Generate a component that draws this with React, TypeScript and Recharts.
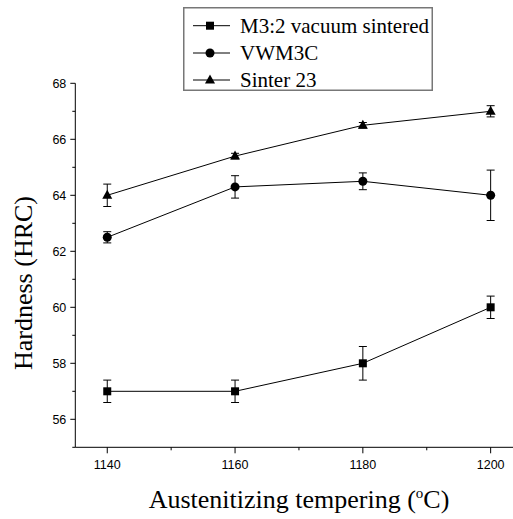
import { LineChart, Line, XAxis, YAxis, ErrorBar, Legend, Label } from "recharts"

const temps = [1140, 1160, 1180, 1200]
const m32 = [57, 57, 58, 60]
const m32Err = [0.4, 0.4, 0.6, 0.4]
const vwm3c = [62.5, 64.3, 64.5, 64.0]
const vwm3cErr = [0.2, 0.4, 0.3, 0.9]
const sinter23 = [64.0, 65.4, 66.5, 67.0]
const sinter23Err = [0.4, 0.1, 0.1, 0.2]
const seriesNames = ["M3:2 vacuum sintered", "VWM3C", "Sinter 23"]
const xTicks = [1140, 1150, 1160, 1170, 1180, 1190, 1200]
const yTicks = [55, 56, 57, 58, 59, 60, 61, 62, 63, 64, 65, 66, 67, 68]

const data = temps.map((t, i) => ({
  t,
  m32: m32[i], m32Err: m32Err[i],
  vw: vwm3c[i], vwErr: vwm3cErr[i],
  s23: sinter23[i], s23Err: sinter23Err[i],
}))

const SANS = "'Liberation Sans', Arial, sans-serif"
const SERIF = "'Liberation Serif', 'Times New Roman', serif"

type Mk = { cx: number; cy: number }
const Square = ({ cx, cy }: Mk) => <rect x={cx - 4} y={cy - 4} width={8} height={8} fill="#000" />
const Circle = ({ cx, cy }: Mk) => <circle cx={cx} cy={cy} r={4.5} fill="#000" />
const Triangle = ({ cx, cy }: Mk) => (
  <path d={`M${cx},${cy - 5.5} L${cx + 5},${cy + 3.5} L${cx - 5},${cy + 3.5} Z`} fill="#000" />
)
const markers = [Square, Circle, Triangle]

const dotOf = (M: (p: Mk) => any) => (p: any) => <M key={p.index} cx={p.cx} cy={p.cy} />

// major/minor ticks drawn by hand: recharts has no minor ticks
function YTick(props: any) {
  const { x, y, payload } = props
  const axisX = x + 8
  const major = payload.value % 2 === 0
  return (
    <g>
      <line x1={axisX - (major ? 5 : 3)} x2={axisX} y1={y} y2={y} stroke="#000" />
      {major && (
        <text x={axisX - 9} y={y + 4.5} textAnchor="end" fontFamily={SANS} fontSize={12.5} fill="#000">
          {payload.value}
        </text>
      )}
    </g>
  )
}

function XTick(props: any) {
  const { x, y, payload } = props
  const axisY = y - 8
  const major = payload.value % 20 === 0
  return (
    <g>
      <line x1={x} x2={x} y1={axisY} y2={axisY + (major ? 6 : 3)} stroke="#000" />
      {major && (
        <text x={x} y={axisY + 22} textAnchor="middle" fontFamily={SANS} fontSize={12.5} fill="#000">
          {payload.value}
        </text>
      )}
    </g>
  )
}

function LegendBox() {
  const rows = [18.7, 46, 73]
  return (
    <svg width={250} height={84} style={{ display: "block" }}>
      <rect x={0.75} y={0.75} width={248.5} height={82.5} fill="#fff" stroke="#777" strokeWidth={1.5} />
      {rows.map((ry, i) => {
        const M = markers[i]
        return (
          <g key={i}>
            <line x1={10} x2={47} y1={ry} y2={ry} stroke="#000" />
            <M cx={27} cy={ry} />
            <text x={57} y={ry + 7} fontFamily={SERIF} fontSize={21} fill="#000">{seriesNames[i]}</text>
          </g>
        )
      })}
    </svg>
  )
}

export default function App() {
  return (
    <div style={{ position: "absolute", left: 0, top: 0, width: 513, height: 519, overflow: "hidden", background: "#fff" }}>
      <LineChart width={530} height={519} data={data} margin={{ top: 83.3, right: 7.4, left: 35.3, bottom: 41.7 }}>
        <XAxis
          dataKey="t"
          type="number"
          domain={[1135, 1205]}
          ticks={xTicks}
          interval={0}
          allowDataOverflow
          height={30}
          tickSize={5}
          tickMargin={3}
          tickLine={false}
          tick={<XTick />}
          axisLine={{ stroke: "#000" }}
        >
          <Label
            content={() => (
              <text x={299} y={508} textAnchor="middle" fontFamily={SERIF} fontSize={26} fill="#000">
                Austenitizing tempering (<tspan dy={-10} fontSize={15}>o</tspan><tspan dy={10}>C)</tspan>
              </text>
            )}
          />
        </XAxis>
        <YAxis
          type="number"
          domain={[55, 68]}
          ticks={yTicks}
          interval={0}
          allowDataOverflow
          width={40}
          tickSize={5}
          tickMargin={3}
          tickLine={false}
          tick={<YTick />}
          axisLine={{ stroke: "#000" }}
        >
          <Label
            content={() => (
              <text
                x={23}
                y={283}
                transform="rotate(-90, 23, 283)"
                textAnchor="middle"
                dominantBaseline="central"
                fontFamily={SERIF}
                fontSize={26}
                fill="#000"
              >
                Hardness (HRC)
              </text>
            )}
          />
        </YAxis>
        <Legend
          layout="vertical"
          align="center"
          verticalAlign="middle"
          content={() => <LegendBox />}
          wrapperStyle={{ position: "absolute", left: 183, top: 7, width: 250, height: 84 }}
        />
        <Line dataKey="m32" name={seriesNames[0]} stroke="#000" strokeWidth={1} isAnimationActive={false} dot={dotOf(Square)} activeDot={false}>
          <ErrorBar dataKey="m32Err" direction="y" width={4} stroke="#000" strokeWidth={1} isAnimationActive={false} />
        </Line>
        <Line dataKey="vw" name={seriesNames[1]} stroke="#000" strokeWidth={1} isAnimationActive={false} dot={dotOf(Circle)} activeDot={false}>
          <ErrorBar dataKey="vwErr" direction="y" width={4} stroke="#000" strokeWidth={1} isAnimationActive={false} />
        </Line>
        <Line dataKey="s23" name={seriesNames[2]} stroke="#000" strokeWidth={1} isAnimationActive={false} dot={dotOf(Triangle)} activeDot={false}>
          <ErrorBar dataKey="s23Err" direction="y" width={4} stroke="#000" strokeWidth={1} isAnimationActive={false} />
        </Line>
      </LineChart>
    </div>
  )
}
